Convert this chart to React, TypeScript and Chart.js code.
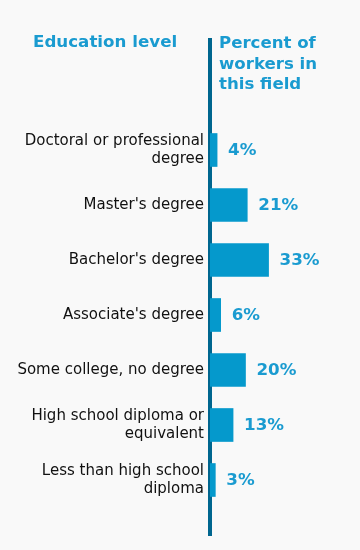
import React, { useEffect, useRef } from "react";
import { Chart, registerables } from "chart.js";

Chart.register(...registerables);

const categories: (string | string[])[] = [
  ["Doctoral or professional", "degree"],
  "Master's degree",
  "Bachelor's degree",
  "Associate's degree",
  "Some college, no degree",
  ["High school diploma or", "equivalent"],
  ["Less than high school", "diploma"],
];
const values: number[] = [4, 21, 33, 6, 20, 13, 3];
const leftHeader = "Education level";
const rightHeader = ["Percent of", "workers in", "this field"];

const FONT = "'DejaVu Sans', Verdana, sans-serif";
const BLUE = "#0599cc";
const TEXT_BLUE = "#1a9bd0";
const DARK = "#00668f";

export default function App() {
  const ref = useRef<HTMLCanvasElement | null>(null);

  useEffect(() => {
    document.body.style.margin = "0";
    const canvas = ref.current;
    if (!canvas) return;
    // two header rows on top, one blank row at bottom (layout only)
    const labels = ["", "", ...categories, ""];
    const data = [null, null, ...values, null];

    const valueLabels = {
      id: "valueLabels",
      afterDatasetsDraw(chart: any) {
        const ctx = chart.ctx;
        const meta = chart.getDatasetMeta(0);
        ctx.save();
        ctx.font = `bold 16.7px ${FONT}`;
        ctx.fillStyle = TEXT_BLUE;
        ctx.textAlign = "left";
        ctx.textBaseline = "middle";
        meta.data.forEach((bar: any, i: number) => {
          const v = data[i];
          if (v == null) return;
          ctx.fillText(`${v}%`, bar.x + 11, bar.y + 1);
        });
        ctx.restore();
      },
      afterDraw(chart: any) {
        const ctx = chart.ctx;
        const left = chart.chartArea.left;
        ctx.save();
        ctx.font = `bold 16.7px ${FONT}`;
        ctx.fillStyle = TEXT_BLUE;
        ctx.textBaseline = "alphabetic";
        ctx.textAlign = "left";
        ctx.fillText(leftHeader, 33, 47);
        ctx.font = `bold 16.6px ${FONT}`;
        rightHeader.forEach((t, i) => {
          ctx.fillText(t, left + 9, 48 + i * 20.5);
        });
        ctx.restore();
      },
    };

    const chart = new Chart(canvas, {
      type: "bar",
      data: {
        labels,
        datasets: [
          {
            data,
            backgroundColor: BLUE,
            borderWidth: 0,
            barThickness: 33,
          },
        ],
      },
      options: {
        indexAxis: "y",
        animation: false,
        responsive: false,
        maintainAspectRatio: false,
        layout: { padding: { top: 40, bottom: 13, left: 0, right: 8 } },
        plugins: {
          legend: { display: false },
          tooltip: { enabled: false },
          title: { display: false },
        },
        scales: {
          x: {
            display: false,
            min: 0,
            max: 80,
          },
          y: {
            z: 1,
            offset: false,
            afterFit: (scale: any) => {
              scale.width = 210;
            },
            grid: { display: true, color: "transparent", drawTicks: false },
            border: { display: true, color: DARK, width: 4 },
            ticks: {
              autoSkip: false,
              padding: 6,
              color: "#111111",
              font: { family: FONT, size: 15, lineHeight: 1.2 },
            },
          },
        },
      },
      plugins: [valueLabels],
    } as any);

    return () => chart.destroy();
  }, []);

  return (
    <div
      style={{
        position: "absolute",
        left: 0,
        top: 0,
        width: 360,
        height: 550,
        background: "#f9f9f9",
      }}
    >
      <canvas ref={ref} width={360} height={550} style={{ display: "block" }} />
    </div>
  );
}
